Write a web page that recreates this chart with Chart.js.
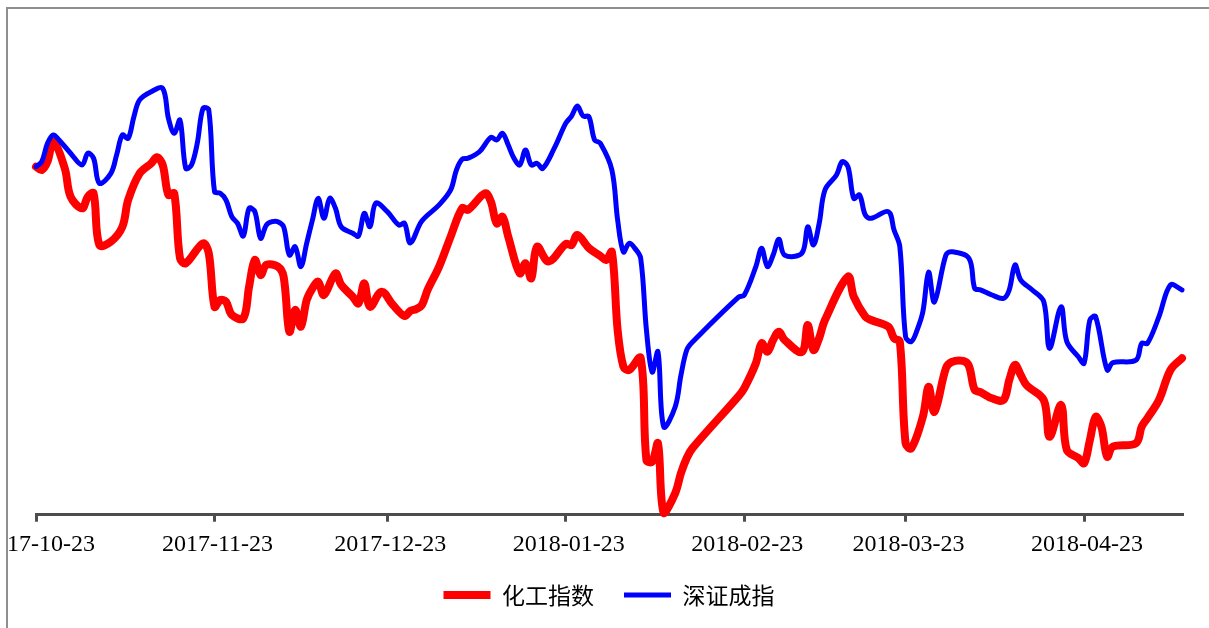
<!DOCTYPE html>
<html>
<head>
<meta charset="utf-8">
<script src="https://cdn.jsdelivr.net/npm/chart.js@4"></script>
<style>
  html, body { margin: 0; padding: 0; background: #fff; }
  body { width: 1209px; height: 628px; position: relative; overflow: hidden; }
  #frame { position: absolute; left: 6px; top: 7px; width: 1300px; height: 700px;
           border-top: 2px solid #8f8f8f; border-left: 2px solid #8f8f8f; }
  #wrap { position: absolute; left: 8px; top: 9px; width: 1201px; height: 619px; }
</style>
</head>
<body>
<div id="frame"></div>
<div id="wrap"><canvas id="chart"></canvas></div>
<script>
// both series rebased to 100 on 2017-10-23
const chemDates = [
  "2017-10-23","2017-10-24","2017-10-25","2017-10-26","2017-10-28","2017-10-29","2017-10-31","2017-11-01","2017-11-02","2017-11-03",
  "2017-11-05","2017-11-07","2017-11-08","2017-11-10","2017-11-12","2017-11-13","2017-11-14","2017-11-15","2017-11-16","2017-11-17",
  "2017-11-18","2017-11-21","2017-11-22","2017-11-23","2017-11-24","2017-11-25","2017-11-26","2017-11-28","2017-11-29","2017-11-30",
  "2017-12-01","2017-12-02","2017-12-04","2017-12-05","2017-12-06","2017-12-07","2017-12-08","2017-12-09","2017-12-10","2017-12-11",
  "2017-12-12","2017-12-14","2017-12-15","2017-12-17","2017-12-18","2017-12-19","2017-12-20","2017-12-22","2017-12-24","2017-12-26",
  "2017-12-27","2017-12-28","2017-12-29","2017-12-30","2018-01-01","2018-01-03","2018-01-05","2018-01-06","2018-01-09","2018-01-10",
  "2018-01-11","2018-01-12","2018-01-13","2018-01-15","2018-01-16","2018-01-17","2018-01-18","2018-01-20","2018-01-23","2018-01-24",
  "2018-01-25","2018-01-27","2018-01-29","2018-01-30","2018-01-31","2018-02-01","2018-02-02","2018-02-03","2018-02-05","2018-02-06",
  "2018-02-07","2018-02-08","2018-02-09","2018-02-11","2018-02-12","2018-02-13","2018-02-14","2018-02-22","2018-02-23","2018-02-25",
  "2018-02-26","2018-02-27","2018-02-28","2018-03-01","2018-03-02","2018-03-05","2018-03-06","2018-03-07","2018-03-08","2018-03-09",
  "2018-03-13","2018-03-14","2018-03-16","2018-03-17","2018-03-20","2018-03-21","2018-03-22","2018-03-23","2018-03-24","2018-03-26",
  "2018-03-27","2018-03-28","2018-03-30","2018-03-31","2018-04-02","2018-04-03","2018-04-04","2018-04-05","2018-04-07","2018-04-09",
  "2018-04-10","2018-04-11","2018-04-12","2018-04-13","2018-04-16","2018-04-17","2018-04-19","2018-04-20","2018-04-22","2018-04-23",
  "2018-04-24","2018-04-25","2018-04-26","2018-04-27","2018-04-28","2018-05-02","2018-05-03","2018-05-04","2018-05-06","2018-05-08",
  "2018-05-10"
];
const chemValues = [
  99.92, 99.76, 100.16, 101.11, 99.84, 98.49, 97.94, 98.49, 98.65, 96.19,
  96.35, 97.06, 98.33, 99.60, 100.08, 100.37, 100.00, 98.57, 98.65, 95.57,
  95.32, 96.27, 95.80, 93.25, 93.57, 93.49, 92.86, 92.70, 94.20, 95.48,
  94.76, 95.24, 95.16, 94.68, 92.06, 93.10, 92.30, 93.57, 94.13, 94.44,
  93.81, 94.84, 94.29, 93.73, 93.41, 94.37, 93.25, 93.97, 93.33, 92.81,
  93.05, 93.14, 93.33, 94.05, 95.16, 96.59, 97.94, 97.86, 98.65, 98.25,
  97.22, 97.54, 96.59, 94.84, 95.32, 94.60, 96.11, 95.40, 96.24, 96.19,
  96.67, 96.05, 95.67, 95.48, 95.86, 92.14, 90.40, 90.24, 90.81, 85.95,
  85.87, 86.75, 83.43, 84.38, 85.33, 86.05, 86.52, 89.00, 89.38, 90.56,
  91.51, 91.11, 91.67, 92.06, 91.67, 91.10, 92.38, 91.19, 91.76, 92.62,
  94.68, 93.73, 92.78, 92.62, 92.30, 91.75, 91.59, 86.75, 86.51, 88.01,
  89.44, 88.25, 90.32, 90.62, 90.67, 90.43, 89.29, 89.19, 88.89, 88.81,
  89.76, 90.48, 90.00, 89.52, 88.81, 87.06, 88.57, 86.43, 86.05, 85.80,
  86.90, 88.01, 87.54, 86.11, 86.59, 86.75, 87.54, 87.95, 88.81, 90.24,
  90.80
];

const szDates = [
  "2017-10-23","2017-10-24","2017-10-25","2017-10-26","2017-10-27","2017-10-29","2017-10-31","2017-11-01","2017-11-02","2017-11-03",
  "2017-11-05","2017-11-06","2017-11-07","2017-11-08","2017-11-09","2017-11-10","2017-11-12","2017-11-14","2017-11-15","2017-11-16",
  "2017-11-17","2017-11-18","2017-11-19","2017-11-20","2017-11-21","2017-11-22","2017-11-23","2017-11-24","2017-11-25","2017-11-26",
  "2017-11-27","2017-11-28","2017-11-29","2017-11-30","2017-12-01","2017-12-02","2017-12-03","2017-12-04","2017-12-05","2017-12-06",
  "2017-12-07","2017-12-08","2017-12-09","2017-12-10","2017-12-11","2017-12-12","2017-12-13","2017-12-14","2017-12-15","2017-12-17",
  "2017-12-18","2017-12-19","2017-12-20","2017-12-21","2017-12-23","2017-12-25","2017-12-26","2017-12-27","2017-12-29","2018-01-01",
  "2018-01-03","2018-01-04","2018-01-05","2018-01-06","2018-01-08","2018-01-10","2018-01-11","2018-01-12","2018-01-13","2018-01-14",
  "2018-01-15","2018-01-16","2018-01-17","2018-01-18","2018-01-19","2018-01-21","2018-01-23","2018-01-24","2018-01-25","2018-01-26",
  "2018-01-27","2018-01-28","2018-01-29","2018-01-31","2018-02-01","2018-02-02","2018-02-03","2018-02-04","2018-02-05","2018-02-06",
  "2018-02-07","2018-02-08","2018-02-09","2018-02-11","2018-02-12","2018-02-13","2018-02-14","2018-02-22","2018-02-23","2018-02-25",
  "2018-02-26","2018-02-27","2018-02-28","2018-03-01","2018-03-02","2018-03-05","2018-03-06","2018-03-07","2018-03-08","2018-03-09",
  "2018-03-11","2018-03-12","2018-03-13","2018-03-14","2018-03-15","2018-03-16","2018-03-17","2018-03-20","2018-03-21","2018-03-22",
  "2018-03-23","2018-03-24","2018-03-25","2018-03-26","2018-03-27","2018-03-28","2018-03-30","2018-03-31","2018-04-03","2018-04-04",
  "2018-04-05","2018-04-07","2018-04-09","2018-04-10","2018-04-11","2018-04-12","2018-04-14","2018-04-16","2018-04-17","2018-04-19",
  "2018-04-20","2018-04-22","2018-04-23","2018-04-24","2018-04-25","2018-04-27","2018-04-28","2018-05-02","2018-05-03","2018-05-04",
  "2018-05-06","2018-05-08","2018-05-10"
];
const szValues = [
  99.92, 100.16, 101.03, 101.43, 101.19, 100.56, 100.00, 100.56, 100.32, 99.13,
  99.60, 100.48, 101.43, 101.27, 102.30, 103.10, 103.49, 103.65, 102.22, 101.51,
  102.14, 99.84, 100.00, 101.03, 102.70, 102.62, 98.73, 98.65, 98.33, 97.54,
  97.22, 96.62, 97.94, 97.78, 96.51, 97.14, 97.30, 97.30, 97.06, 95.71,
  96.11, 95.16, 96.27, 97.38, 98.41, 97.46, 98.41, 97.94, 97.06, 96.75,
  96.62, 97.70, 97.06, 98.18, 97.78, 97.14, 97.22, 96.29, 97.33, 98.10,
  98.81, 99.76, 100.27, 100.32, 100.63, 101.32, 101.19, 101.51, 100.95, 100.32,
  100.00, 100.71, 100.00, 100.08, 99.84, 100.80, 101.99, 102.33, 102.81, 102.33,
  102.30, 101.19, 101.03, 99.76, 97.38, 95.86, 96.27, 96.03, 95.56, 92.14,
  90.14, 91.11, 87.54, 88.49, 90.00, 91.19, 91.57, 93.71, 93.81, 95.16,
  96.03, 95.16, 95.71, 96.46, 95.71, 95.80, 97.06, 96.19, 97.22, 98.81,
  99.52, 100.16, 99.92, 98.41, 98.57, 97.62, 97.46, 97.78, 96.90, 96.11,
  91.82, 91.59, 92.14, 93.01, 94.90, 93.48, 95.71, 95.87, 95.56, 94.13,
  94.05, 93.81, 93.65, 94.05, 95.24, 94.52, 94.05, 93.49, 91.27, 93.25,
  91.59, 90.87, 90.56, 92.62, 92.78, 90.24, 90.59, 90.71, 91.51, 91.51,
  92.78, 94.29, 94.05
];

const tickDates = ["2017-10-23","2017-11-23","2017-12-23","2018-01-23","2018-02-23","2018-03-23","2018-04-23"];
const lastDate = "2018-05-10";

const startMs = Date.UTC(2017, 9, 23);
function dayOf(s) {
  return Math.round((Date.parse(s + "T00:00:00Z") - startMs) / 86400000);
}
function toPoints(dates, values) {
  return dates.map((d, i) => ({ x: dayOf(d), y: values[i] }));
}

const serif = "'Liberation Serif', 'Times New Roman', serif";
const cjk = "'Noto Sans CJK SC', 'Liberation Serif', sans-serif";

new Chart(document.getElementById("chart"), {
  type: "line",
  data: {
    datasets: [
      {
        label: "化工指数",
        data: toPoints(chemDates, chemValues),
        borderColor: "#ff0000",
        backgroundColor: "#ff0000",
        borderWidth: 8,
        borderCapStyle: "round",
        borderJoinStyle: "round",
        pointRadius: 0,
        tension: 0.35,
        clip: false,
        order: 1,
      },
      {
        label: "深证成指",
        data: toPoints(szDates, szValues),
        borderColor: "#0000ff",
        backgroundColor: "#0000ff",
        borderWidth: 5,
        borderCapStyle: "round",
        borderJoinStyle: "round",
        pointRadius: 0,
        tension: 0.35,
        clip: false,
        order: 0,
      },
    ],
  },
  options: {
    responsive: true,
    maintainAspectRatio: false,
    animation: false,
    devicePixelRatio: 1,
    layout: { padding: { left: 28, right: 27, top: 10, bottom: 11.5 } },
    plugins: {
      tooltip: { enabled: false },
      legend: {
        position: "bottom",
        labels: {
          usePointStyle: true,
          pointStyle: "line",
          pointStyleWidth: 47,
          padding: 30,
          color: "#000",
          font: { family: cjk, size: 23 },
          // keep the series order in the legend (blue is drawn on top)
          sort: (a, b) => a.datasetIndex - b.datasetIndex,
        },
      },
    },
    scales: {
      x: {
        type: "linear",
        min: 0,
        max: dayOf(lastDate),
        border: { display: true, color: "#4d4d4d", width: 3 },
        grid: {
          drawOnChartArea: false,
          color: "#4d4d4d",
          lineWidth: 3,
          tickLength: 7,
          tickWidth: 3,
        },
        ticks: {
          autoSkip: false,
          maxRotation: 0,
          padding: 8.4,
          labelOffset: 3,
          color: "#000",
          font: { family: serif, size: 24 },
          callback: (v, i) => tickDates[i],
        },
        afterBuildTicks: (s) => {
          s.ticks = tickDates.map((d) => ({ value: dayOf(d) }));
        },
        afterFit: (s) => {
          s.paddingLeft = 0;
          s.paddingRight = 0;
          s.height = 38.8;
        },
      },
      y: {
        display: false,
        min: 83.35,
        max: 106.95,
      },
    },
  },
});
</script>
</body>
</html>
